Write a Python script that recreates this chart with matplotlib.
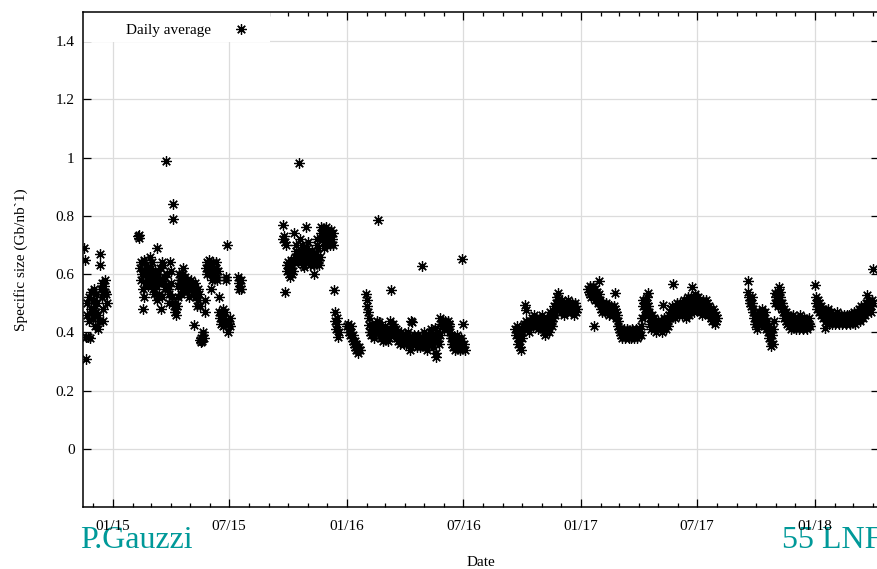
"""Tamano especifico de los datos (Gb/nb^-1): promedio diario, nov 2014 - abr 2018."""

from __future__ import annotations

import matplotlib

matplotlib.use("Agg")

import matplotlib.dates as mdates
import matplotlib.pyplot as plt
import numpy as np
import pandas as pd
from matplotlib.patches import Rectangle

# Cada tramo: fecha de inicio + un valor por dia consecutivo (None = sin dato).
RUN_2014_START = "2014-11-17"
RUN_2014 = [0.69, 0.65, 0.31, 0.385, 0.46, 0.50, 0.385, 0.44, 0.52, 0.38, 0.48, 0.54,
            0.47, 0.51, 0.45, 0.55, 0.49, 0.42, 0.47, 0.53, 0.50, 0.41, 0.46, 0.44,
            0.67, 0.63, 0.55, 0.57, 0.52, 0.48, 0.44, 0.56, 0.54, 0.58, 0.53, 0.50]

RUN_2015A_START = "2015-02-09"
RUN_2015A = [0.73, 0.735, 0.725,
             0.62, 0.58, 0.64, 0.60, 0.55, 0.48, 0.52, 0.65, 0.61, 0.57, 0.63, 0.59,
             0.56, 0.62, 0.60, 0.66,
             0.58, 0.62, 0.64, 0.60, 0.57, 0.55, 0.53, 0.59, 0.61, 0.56, 0.51, 0.69,
             0.60, 0.53, 0.57, 0.62,
             0.58, 0.48, 0.52, 0.64, 0.63, 0.57, 0.59, 0.55, 0.56, 0.99, 0.60, 0.56,
             0.55, 0.50, 0.53, 0.64, 0.61, 0.57,
             0.52, 0.84, 0.79, 0.49, 0.47, 0.50, 0.48, 0.46, 0.49, 0.52, 0.56, 0.60, 0.58,
             0.57, 0.53, 0.55, 0.60, 0.62, 0.58, 0.55, 0.57, 0.59, 0.56, 0.54, 0.58,
             0.57, 0.55, 0.52, 0.56, 0.58, 0.55,
             0.56, 0.53, 0.54, 0.425, 0.55, 0.57, 0.54, 0.52, 0.49, 0.55, 0.51, 0.53, 0.49,
             0.375, 0.365, 0.38, 0.37, 0.40, 0.39, 0.38, 0.47, 0.51,
             0.62, 0.64, 0.60, 0.61, 0.63, 0.65, 0.60, 0.62, 0.55, 0.58, 0.61, 0.64, 0.62,
             0.59, 0.61, 0.64, 0.62, 0.59, 0.58, 0.61, 0.52, 0.47, 0.45, 0.43, 0.46,
             0.44, 0.48, 0.42,
             0.45, 0.43, 0.47, 0.58, 0.59, 0.70, 0.44, 0.40, 0.43, 0.42, 0.45,
             None, None, None, None, None, None, None, None, None, None, None,
             0.59, 0.57, 0.55, 0.56, 0.55, 0.58]

RUN_2015B_START = "2015-09-23"
RUN_2015B = [0.72, 0.77, 0.73, 0.54, 0.71, 0.70, 0.63, 0.61, 0.64, 0.62, 0.60,
             0.59, 0.62, 0.65, 0.63, 0.60, 0.61, 0.64, 0.74, 0.66, 0.70, 0.68, 0.65,
             0.67, 0.64, 0.98, 0.66,
             0.72, 0.68, 0.66, 0.70, 0.63, 0.65, 0.625, 0.68, 0.67, 0.64, 0.76, 0.69,
             0.66, 0.71, 0.65, 0.63,
             0.67, 0.65, 0.64, 0.68, 0.66, 0.63, 0.60, 0.64, 0.66, 0.67, 0.72, 0.70,
             0.69, 0.65, 0.63, 0.66,
             0.74, 0.76, 0.72, 0.75, 0.73, 0.71, 0.69, 0.74, 0.76, 0.73, 0.70, 0.72,
             0.75, 0.74, 0.71, 0.70,
             0.73, 0.75, 0.72, 0.74, 0.70, 0.545, 0.47, 0.44, 0.41, 0.45, 0.43, 0.385, 0.40]

RUN_2016A_START = "2016-01-02"
RUN_2016A = [0.42, 0.43, 0.41, 0.40, 0.39, 0.42, 0.40, 0.38, 0.37, 0.39, 0.36, 0.35,
             0.37, 0.36, 0.34, 0.35, 0.33, 0.34, 0.35, 0.34]

RUN_2016B_START = "2016-01-31"
RUN_2016B = [0.53, 0.51, 0.49, 0.47, 0.45, 0.425, 0.40,
             0.41, 0.39, 0.40, 0.43, 0.41, 0.39, 0.38, 0.40, 0.42, 0.41, 0.44, 0.40,
             0.785,
             0.435, 0.42, 0.40, 0.38, 0.39, 0.41, 0.37, 0.39, 0.40, 0.42, 0.38, 0.40,
             0.41, 0.39, 0.37, 0.40, 0.38, 0.39,
             0.44, 0.545, 0.40, 0.42, 0.43, 0.41, 0.39, 0.40,
             0.41, 0.39, 0.38, 0.40, 0.37, 0.38, 0.39, 0.36, 0.38, 0.40, 0.37, 0.39,
             0.38, 0.36, 0.37, 0.39, 0.38, 0.36, 0.37, 0.40, 0.38, 0.36, 0.37,
             0.34, 0.44, 0.435, 0.38, 0.36, 0.37, 0.39, 0.37, 0.36, 0.38, 0.35, 0.37,
             0.39, 0.38, 0.36, 0.37, 0.35,
             0.37, 0.628, 0.36, 0.38, 0.40, 0.37, 0.35, 0.38, 0.36, 0.34, 0.37, 0.39,
             0.36, 0.38, 0.37,
             0.40, 0.41, 0.36, 0.38, 0.35, 0.38, 0.37, 0.415, 0.315, 0.33, 0.40, 0.38,
             0.37, 0.36, 0.39,
             0.45, 0.43, 0.44, 0.42, 0.44, 0.41, 0.43, 0.42, 0.44, 0.43, 0.41, 0.42,
             0.44, 0.43, 0.42, 0.40,
             0.39, 0.38, 0.36, 0.37, 0.35, 0.38, 0.36, 0.34, 0.37, 0.35, 0.39, 0.36,
             0.37, 0.35, 0.34, 0.36, 0.38, 0.37, 0.652, 0.43, 0.35, 0.36, 0.34]

RUN_2016C_START = "2016-09-20"
RUN_2016C = [0.41, 0.39, 0.42, 0.40, 0.38, 0.36, 0.37, 0.40, 0.35, 0.34, 0.38, 0.40,
             0.42, 0.41, 0.43, 0.494, 0.477, 0.44, 0.42, 0.43, 0.41, 0.40, 0.43, 0.44, 0.42,
             0.44, 0.45, 0.43, 0.42, 0.44, 0.46, 0.43, 0.42, 0.45, 0.44, 0.43, 0.41,
             0.42, 0.44, 0.45, 0.43, 0.44, 0.46, 0.42, 0.41,
             0.40, 0.42, 0.39, 0.41, 0.43, 0.45, 0.44, 0.42, 0.40, 0.43, 0.47, 0.46,
             0.44, 0.42, 0.45, 0.47, 0.49, 0.46,
             0.48, 0.50, 0.52, 0.535, 0.51, 0.49, 0.50, 0.48, 0.47, 0.49, 0.51, 0.50,
             0.48, 0.46, 0.47, 0.49,
             0.50, 0.48, 0.47, 0.49, 0.51, 0.50, 0.49, 0.48, 0.47, 0.49, 0.50, 0.48,
             0.46, 0.48, 0.50, 0.49, 0.47, 0.48]

RUN_2017A_START = "2017-01-12"
RUN_2017A = [0.55, 0.54, 0.56, 0.53, 0.55, 0.52, 0.54, 0.56, 0.53, 0.42, 0.51, 0.55,
             0.53, 0.54, 0.52, 0.50, 0.53, 0.577, 0.51,
             0.50, 0.48, 0.49, 0.47, 0.50, 0.48, 0.49, 0.47, 0.48, 0.50, 0.49, 0.47,
             0.48, 0.46, 0.49, 0.48,
             0.47, 0.49, 0.48, 0.46, 0.47, 0.49, 0.48, 0.535, 0.47, 0.45, 0.46, 0.44,
             0.42, 0.41,
             0.40, 0.41, 0.39, 0.40, 0.38, 0.39, 0.40, 0.41, 0.39, 0.38, 0.40, 0.39,
             0.41, 0.40, 0.38, 0.39,
             0.40, 0.38, 0.39, 0.41, 0.40, 0.39, 0.38, 0.40, 0.39, 0.41, 0.39, 0.38,
             0.40, 0.39,
             0.39, 0.40, 0.41, 0.39, 0.42, 0.45, 0.49, 0.51, 0.50, 0.48, 0.46, 0.49,
             0.50, 0.52, 0.535, 0.49,
             0.47, 0.45, 0.43, 0.41, 0.44, 0.46, 0.43, 0.42, 0.45, 0.44, 0.42, 0.40,
             0.43, 0.41, 0.44, 0.42,
             0.43, 0.41, 0.42, 0.44, 0.40, 0.494, 0.43, 0.45, 0.42, 0.44, 0.41, 0.43,
             0.45, 0.42, 0.44, 0.46,
             0.45, 0.47, 0.48, 0.46, 0.49, 0.47, 0.566, 0.48, 0.45, 0.47, 0.46, 0.48,
             0.50, 0.47, 0.49, 0.46,
             0.48, 0.50, 0.47, 0.49, 0.46, 0.48, 0.51, 0.49, 0.47, 0.45, 0.48, 0.50,
             0.52, 0.49, 0.47, 0.46,
             0.48, 0.50, 0.52, 0.555, 0.51, 0.49, 0.47, 0.50, 0.53, 0.51, 0.49, 0.48,
             0.50, 0.52, 0.49, 0.47, 0.50, 0.48, 0.46, 0.49,
             0.51, 0.50, 0.48, 0.47, 0.49, 0.51, 0.50, 0.48, 0.46, 0.47, 0.49, 0.48,
             0.45, 0.47, 0.44, 0.46, 0.48, 0.47, 0.45, 0.43, 0.46, 0.44, 0.45]

RUN_2017B_START = "2017-09-18"
RUN_2017B = [0.577, 0.54, 0.52, 0.50, 0.51, 0.49, 0.52, 0.50,
             0.48, 0.47, 0.45, 0.43, 0.46, 0.44, 0.41, 0.43, 0.45, 0.47, 0.44, 0.46,
             0.45, 0.43, 0.46, 0.48, 0.44, 0.42, 0.45, 0.47, 0.43, 0.41, 0.44, 0.42, 0.40,
             0.38, 0.42, 0.40, 0.353, 0.37, 0.39, 0.36, 0.41, 0.44, 0.535, 0.50, 0.52,
             0.53, 0.51, 0.49,
             0.53, 0.555, 0.54, 0.52, 0.50, 0.48, 0.50, 0.47, 0.45, 0.48, 0.46, 0.44,
             0.47, 0.45, 0.43, 0.46,
             0.44, 0.42, 0.45, 0.43, 0.41, 0.44, 0.46, 0.43, 0.42, 0.45, 0.43, 0.41,
             0.44, 0.42, 0.45, 0.43, 0.41, 0.44, 0.46,
             0.43, 0.42, 0.44, 0.41, 0.43, 0.45, 0.42, 0.44, 0.43, 0.41, 0.44, 0.42,
             0.43, 0.45, 0.42]

RUN_2018_START = "2018-01-01"
RUN_2018 = [0.562, 0.52, 0.50, 0.48, 0.51, 0.49, 0.47, 0.50, 0.48, 0.46, 0.49, 0.47,
            0.45, 0.48, 0.46,
            0.415, 0.47, 0.45, 0.44, 0.46, 0.48, 0.45, 0.43, 0.46, 0.44, 0.47, 0.45,
            0.43, 0.46, 0.44, 0.45, 0.43, 0.46,
            0.44, 0.45, 0.47, 0.44, 0.46, 0.43, 0.45, 0.44, 0.46, 0.45, 0.43, 0.45,
            0.44, 0.46, 0.45, 0.43, 0.44, 0.46, 0.45, 0.44,
            0.46, 0.45, 0.43, 0.44, 0.46, 0.45, 0.44, 0.46, 0.47, 0.45, 0.43, 0.46,
            0.44, 0.47, 0.45, 0.48, 0.46, 0.44, 0.47, 0.49,
            0.46, 0.48, 0.45, 0.47, 0.49, 0.46, 0.48, 0.50, 0.528, 0.47, 0.49, 0.51,
            0.48, 0.50, 0.47, 0.49, 0.51, 0.617, 0.50]

RUNS = [
    (RUN_2014_START, RUN_2014),
    (RUN_2015A_START, RUN_2015A),
    (RUN_2015B_START, RUN_2015B),
    (RUN_2016A_START, RUN_2016A),
    (RUN_2016B_START, RUN_2016B),
    (RUN_2016C_START, RUN_2016C),
    (RUN_2017A_START, RUN_2017A),
    (RUN_2017B_START, RUN_2017B),
    (RUN_2018_START, RUN_2018),
]

Y_TICKS = [0, 0.2, 0.4, 0.6, 0.8, 1.0, 1.2, 1.4]
Y_TICK_LABELS = ["0", "0.2", "0.4", "0.6", "0.8", "1", "1.2", "1.4"]
X_LIMITS = ("2014-11-15", "2018-04-11")
Y_LIMITS = (-0.2, 1.5)

TEAL = "#009999"
GRID_COLOR = "#dcdcdc"


def build_series(runs: list) -> tuple[pd.DatetimeIndex, np.ndarray]:
    """Aplana los tramos diarios en fechas y valores, saltando los dias sin dato."""
    dates, values = [], []
    for start, vals in runs:
        days = pd.date_range(start, periods=len(vals), freq="D")
        for day, val in zip(days, vals):
            if val is not None:
                dates.append(day)
                values.append(val)
    return pd.DatetimeIndex(dates), np.asarray(values, dtype=float)


def main() -> None:
    plt.rcParams["font.family"] = ["Liberation Serif", "DejaVu Serif"]
    plt.rcParams["font.size"] = 11

    dates, values = build_series(RUNS)

    fig = plt.figure(figsize=(8.77, 5.69), dpi=100)
    # El borde derecho del marco queda justo fuera del lienzo.
    ax = fig.add_axes([83 / 877, 62 / 569, 796 / 877, 495 / 569])

    ax.plot(dates, values, linestyle="none", marker=(8, 2, 0), markersize=7.5,
            markeredgewidth=0.9, color="black", label="Daily average", zorder=3)

    ax.set_xlim(pd.Timestamp(X_LIMITS[0]), pd.Timestamp(X_LIMITS[1]))
    ax.set_ylim(*Y_LIMITS)

    ax.xaxis.set_major_locator(mdates.MonthLocator(bymonth=[1, 7]))
    ax.xaxis.set_minor_locator(mdates.MonthLocator())
    ax.xaxis.set_major_formatter(mdates.DateFormatter("%m/%y"))
    ax.set_yticks(Y_TICKS)
    ax.set_yticklabels(Y_TICK_LABELS)

    ax.tick_params(which="both", direction="in", top=True, right=True,
                   color="black", width=0.9)
    ax.tick_params(which="major", length=6)
    ax.tick_params(which="minor", length=3)
    ax.tick_params(axis="x", which="major", pad=9)
    ax.tick_params(axis="y", which="major", pad=6)

    ax.grid(True, which="major", color=GRID_COLOR, linewidth=0.9)
    ax.set_axisbelow(True)
    for spine in ax.spines.values():
        spine.set_color("black")
        spine.set_linewidth(1.1)

    ax.set_xlabel("Date", labelpad=17)
    ax.set_ylabel("Specific size (Gb/nb`1)", labelpad=20)

    # Fondo blanco de la leyenda: tapa la reticula en la esquina superior.
    ax.add_patch(Rectangle((0, 0.939), 0.235, 0.061, transform=ax.transAxes,
                           facecolor="white", edgecolor="none", zorder=2.5))
    ax.legend(loc="center left", bbox_to_anchor=(0.054, 0.9636), frameon=False,
              markerfirst=False, handlelength=2.7, handletextpad=0.6,
              borderpad=0, borderaxespad=0)

    # Firmas en teal bajo las etiquetas del eje x.
    fig.text(80 / 877, 1 - 548 / 569, "P.Gauzzi", color=TEAL, fontsize=23,
             va="baseline", ha="left", zorder=-1)
    fig.text(782 / 877, 1 - 548 / 569, "55 LNF", color=TEAL, fontsize=23,
             va="baseline", ha="left", zorder=-1)

    fig.savefig("out.png", dpi=100)


if __name__ == "__main__":
    main()
